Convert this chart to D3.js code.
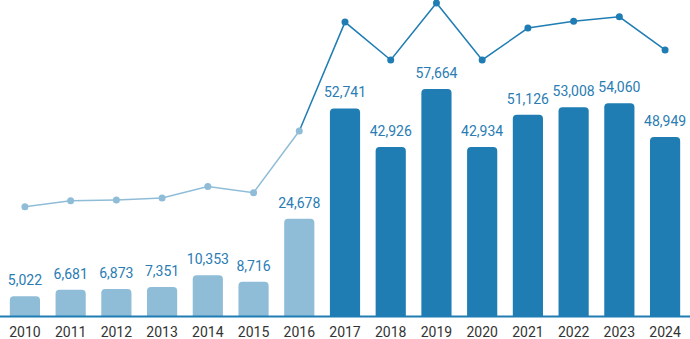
<!DOCTYPE html>
<html>
<head>
<meta charset="utf-8">
<script src="https://cdn.jsdelivr.net/npm/d3@7"></script>
<style>
  html, body { margin: 0; padding: 0; background: #fff; }
  svg { display: block; font-family: Roboto, "Noto Sans", sans-serif; }
</style>
</head>
<body>
<div id="chart"></div>
<script>
// Years on the x axis
const years = ['2010', '2011', '2012', '2013', '2014', '2015', '2016',
               '2017', '2018', '2019', '2020', '2021', '2022', '2023', '2024'];

// Printed value above each bar
const labelValues = [5022, 6681, 6873, 7351, 10353, 8716, 24678,
                     52741, 42926, 57664, 42934, 51126, 53008, 54060, 48949];

// Bar heights as drawn (the 2024 bar is drawn shorter than its label)
const barValues = [5022, 6681, 6873, 7351, 10353, 8716, 24678,
                   52741, 42926, 57664, 42934, 51126, 53008, 54060, 45500];

// Secondary series shown as a line (index, 2019 = 100)
const lineValues = [34.9, 36.8, 37.1, 37.7, 41.4, 39.4, 59.1,
                    93.9, 81.8, 100, 81.8, 92.0, 94.2, 95.6, 85.0];

// First year drawn in the darker shade
const darkFrom = '2017';

const width = 690, height = 339;
const baseY = 316;
const light = '#8fbdd8', dark = '#1f7db4';

const svg = d3.select('#chart').append('svg')
    .attr('width', width)
    .attr('height', height);

const x = d3.scaleBand()
    .domain(years)
    .range([0, width])
    .paddingInner(0.34)
    .paddingOuter(0.215);

const y = d3.scaleLinear()
    .domain([0, 57664])
    .range([baseY, 89]);

const yLine = d3.scaleLinear()
    .domain([0, 100])
    .range([baseY, 3]);

const isDark = yr => +yr >= +darkFrom;
const data = years.map((yr, i) => ({
    year: yr, bar: barValues[i], label: labelValues[i], line: lineValues[i]
}));

// Bars with rounded tops
const r = 4;
const barPath = d => {
    const x0 = x(d.year), w = x.bandwidth();
    const top = y(d.bar), bot = y(0);
    return `M${x0},${bot}V${top + r}Q${x0},${top} ${x0 + r},${top}` +
           `H${x0 + w - r}Q${x0 + w},${top} ${x0 + w},${top + r}V${bot}Z`;
};

svg.append('g').selectAll('path')
    .data(data)
    .enter().append('path')
    .attr('d', barPath)
    .attr('fill', d => isDark(d.year) ? dark : light);

// Value labels
const fmt = d3.format(',');
svg.append('g').selectAll('text')
    .data(data)
    .enter().append('text')
    .attr('x', d => x(d.year) + x.bandwidth() / 2)
    .attr('y', d => y(d.bar) - 11)
    .attr('text-anchor', 'middle')
    .attr('fill', '#2a7cb3')
    .style('font-size', '14px')
    .text(d => fmt(d.label));

// Line: light segments up to 2016, dark afterwards
const line = d3.line()
    .x(d => x(d.year) + x.bandwidth() / 2)
    .y(d => yLine(d.line));

const splitIdx = years.indexOf(darkFrom);
svg.append('path')
    .datum(data.slice(0, splitIdx))
    .attr('d', line)
    .attr('fill', 'none')
    .attr('stroke', light)
    .attr('stroke-width', 1.5);

svg.append('path')
    .datum(data.slice(splitIdx - 1))
    .attr('d', line)
    .attr('fill', 'none')
    .attr('stroke', dark)
    .attr('stroke-width', 1.5);

svg.append('g').selectAll('circle')
    .data(data)
    .enter().append('circle')
    .attr('cx', d => x(d.year) + x.bandwidth() / 2)
    .attr('cy', d => yLine(d.line))
    .attr('r', 3.5)
    .attr('fill', d => isDark(d.year) ? dark : light);

// X axis
const gx = svg.append('g')
    .attr('transform', `translate(0,${baseY})`)
    .call(d3.axisBottom(x).tickSize(0).tickPadding(0));

gx.select('.domain')
    .attr('d', `M0,0.5H${width}`)
    .attr('stroke', dark)
    .attr('stroke-width', 2);

gx.selectAll('.tick text')
    .attr('y', 21)
    .attr('dy', 0)
    .attr('fill', '#333')
    .style('font-family', 'Roboto, "Noto Sans", sans-serif')
    .style('font-size', '14px');
</script>
</body>
</html>
